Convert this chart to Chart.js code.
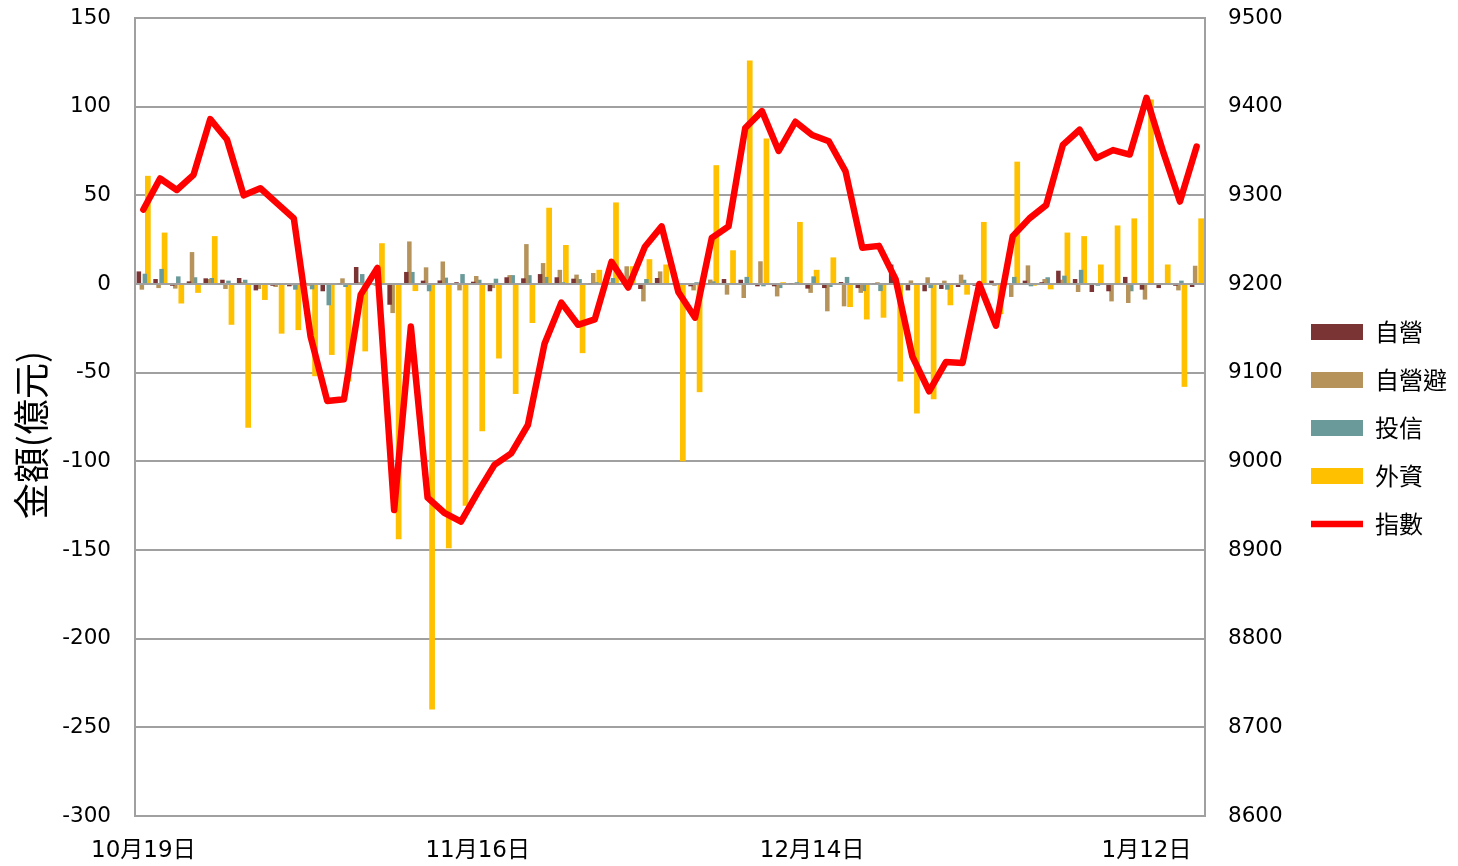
<!DOCTYPE html>
<html>
<head>
<meta charset="utf-8">
<script src="https://cdn.jsdelivr.net/npm/chart.js@4.4.1/dist/chart.umd.min.js"></script>
<style>
    html, body { margin: 0; padding: 0; background: #fff; }
    #wrap { width: 1458px; height: 866px; }
</style>
</head>
<body>
<div id="wrap"><canvas id="flowChart" width="1458" height="866"></canvas></div>
<script>
// trading days, Oct 19 -> Jan 15
const dates = [
    '10月19日', '10月20日', '10月21日', '10月22日', '10月23日',
    '10月26日', '10月27日', '10月28日', '10月29日', '10月30日',
    '11月2日', '11月3日', '11月4日', '11月5日', '11月6日',
    '11月9日', '11月10日', '11月11日', '11月12日', '11月13日',
    '11月16日', '11月17日', '11月18日', '11月19日', '11月20日',
    '11月23日', '11月24日', '11月25日', '11月26日', '11月27日',
    '11月30日', '12月1日', '12月2日', '12月3日', '12月4日',
    '12月7日', '12月8日', '12月9日', '12月10日', '12月11日',
    '12月14日', '12月15日', '12月16日', '12月17日', '12月18日',
    '12月21日', '12月22日', '12月23日', '12月24日', '12月25日',
    '12月28日', '12月29日', '12月30日', '12月31日',
    '1月4日', '1月5日', '1月6日', '1月7日', '1月8日',
    '1月11日', '1月12日', '1月13日', '1月14日', '1月15日'
];

// 自營
const dealers = [
    7.1, 2.8, -1, 1.5, 3.2, 2.4, 3.4, -3.6, -1, -1.3,
    0.5, -4.1, 0.5, 9.6, 0.5, -11.7, 6.8, 1.9, 2, 1,
    1.3, -4.1, 3.8, 3.2, 5.6, 3.8, 3, 0.5, 0.5, 0.5,
    -2.8, 3.4, 0.5, -1.3, 0.5, 2.8, 2.4, -1.3, -1.3, 0.5,
    -2.6, -2.3, 1.1, -2.3, 0.5, 11, -3.6, -4.1, -2.8, -1.7,
    -1, 1.9, 0.5, 1.9, 1, 7.5, 2.8, -4.5, -4.1, 4,
    -3.2, -2.3, -1, -1.7
];

// 自營避
const dealerHedge = [
    -3.2, -2.3, -2.6, 18, 2.8, -2.8, 1, -2.8, -1.7, -0.8,
    -1, 0.5, 3.2, 1, -1, -16.4, 24, 9.4, 12.7, -3.6,
    4.5, -2.3, 5, 22.5, 11.8, 8, 5.3, 6.2, 1, 10,
    -9.8, 7.1, -1, -3.6, 2.5, -6, -7.9, 12.8, -7, 0.5,
    -5, -15.4, -12.6, -5, 1, 1.5, 2, 3.8, 1.9, 5.3,
    0.5, -1, -7.3, 10.5, 2.8, 2.4, -4.5, 0.5, -9.8, -10.7,
    -8.8, 0.5, -3.6, 10.3
];

// 投信
const trusts = [
    5.8, 8.5, 4.3, 3.8, 3.4, 1.9, 2.4, 0, -0.5, -3.2,
    -3, -12, -1.7, 5.6, 0.5, 0, 6.8, -4.1, 3.6, 5.6,
    2.4, 3, 5, 5, 4, 1, 2.8, 1, 3.4, 1,
    2.8, 0, 0.5, 1, 1.5, 0.5, 4, -1.3, -2.3, 1,
    4.3, -1.7, 4, -4, -4, 0.5, 0, -2.3, -3.2, 2.4,
    0.5, 0.5, 4, -1.3, 3.8, 4.7, 8, -1, 0, -4.1,
    0.5, 0.5, 1.9, 0.5
];

// 外資
const foreign = [
    61, 29, -11, -5, 27, -23, -81, -9, -28, -26,
    -52, -40, -55, -38, 23, -144, -4, -240, -149, -125,
    -83, -42, -62, -22, 43, 22, -39, 8, 46, 10,
    14, 11, -100, -61, 67, 19, 126, 82, 1, 35,
    8, 15, -13, -20, -19, -55, -73, -65, -12, -6,
    35, -17, 69, -1, -3, 29, 27, 11, 33, 37,
    104, 11, -58, 37
];

// 指數 (right axis)
const taiex = [
    9284, 9319, 9306, 9323, 9386, 9363, 9300, 9308, 9291, 9274,
    9141, 9068, 9070, 9188, 9218, 8945, 9152, 8959, 8942, 8932,
    8965, 8996, 9009, 9041, 9133, 9179, 9154, 9160, 9225, 9196,
    9242, 9265, 9191, 9162, 9252, 9265, 9376, 9395, 9350, 9383,
    9368, 9361, 9327, 9241, 9243, 9205, 9118, 9079, 9112, 9111,
    9200, 9153, 9254, 9274, 9289, 9357, 9374, 9342, 9351, 9346,
    9410, 9349, 9293, 9355
];

const amountRange = { min: -300, max: 150, step: 50 };
const indexRange = { min: 8600, max: 9500, step: 100 };

const numFont = '"DejaVu Sans", "Noto Sans CJK TC", sans-serif';
const cjkFont = '"Noto Sans CJK TC", sans-serif';
const axisGray = '#a0a0a0';

function barSet(label, data, color, widthScale) {
    return {
        label: label,
        data: data,
        backgroundColor: color,
        borderWidth: 0,
        yAxisID: 'y',
        categoryPercentage: 0.72,
        barPercentage: widthScale,
        pointStyle: 'rect'
    };
}

// fixed axis sizes so the plot area lands where the original one is
function fixVertical(width) {
    return (scale) => {
        scale.width = width;
        scale.paddingTop = 12;
        scale.paddingBottom = 12;
    };
}

let ctx = document.getElementById('flowChart').getContext('2d');
let flowChart = new Chart(ctx, {
    type: 'bar',
    data: {
        labels: dates,
        datasets: [
            barSet('自營', dealers, '#7b3434', 1.5),
            barSet('自營避', dealerHedge, '#b5935b', 1.5),
            barSet('投信', trusts, '#6a9a9a', 1.5),
            barSet('外資', foreign, '#ffc000', 1.9),
            {
                type: 'line',
                label: '指數',
                data: taiex,
                yAxisID: 'y2',
                borderColor: '#ff0000',
                backgroundColor: '#ff0000',
                borderWidth: 6.5,
                borderJoinStyle: 'round',
                borderCapStyle: 'round',
                pointRadius: 0,
                tension: 0,
                pointStyle: 'line',
                order: -1   // keep the line above the bars
            }
        ]
    },
    options: {
        responsive: false,
        animation: false,
        devicePixelRatio: 1,
        layout: { padding: { top: 18, right: 1, bottom: 0, left: 0 } },
        plugins: {
            tooltip: { enabled: false },
            legend: {
                position: 'right',
                align: 'start',
                title: { display: true, text: '', font: { size: 10 }, padding: { top: 266, bottom: 0 } },
                labels: {
                    usePointStyle: true,
                    pointStyleWidth: 52,
                    boxHeight: 16,
                    padding: 24,
                    color: '#000',
                    font: { size: 24, family: cjkFont },
                    sort: (a, b) => a.datasetIndex - b.datasetIndex
                }
            }
        },
        scales: {
            x: {
                grid: { display: false, drawTicks: false },
                border: { color: axisGray, width: 2 },
                ticks: {
                    autoSkip: false,
                    maxRotation: 0,
                    padding: 21,
                    color: '#000',
                    font: { size: 23, family: numFont },
                    callback: (value, i) => (i % 20 === 0 ? dates[i] : '')
                },
                afterFit: (scale) => { scale.height = 50; }
            },
            y: {
                position: 'left',
                min: amountRange.min,
                max: amountRange.max,
                ticks: {
                    stepSize: amountRange.step,
                    padding: 24,
                    color: '#000',
                    font: { size: 21.5, family: numFont }
                },
                grid: { color: axisGray, lineWidth: 2, drawTicks: false },
                border: { color: axisGray, width: 2 },
                title: {
                    display: true,
                    text: '金額(億元)\u3000',
                    color: '#000',
                    font: { size: 36, family: cjkFont },
                    padding: { top: 10, bottom: 0 }
                },
                afterFit: fixVertical(135)
            },
            y2: {
                position: 'right',
                min: indexRange.min,
                max: indexRange.max,
                ticks: {
                    stepSize: indexRange.step,
                    padding: 23,
                    color: '#000',
                    font: { size: 21.5, family: numFont },
                    callback: (value) => String(value)
                },
                grid: { drawOnChartArea: false, drawTicks: false },
                border: { color: axisGray, width: 2 },
                afterFit: fixVertical(82)
            }
        }
    }
});
</script>
</body>
</html>
